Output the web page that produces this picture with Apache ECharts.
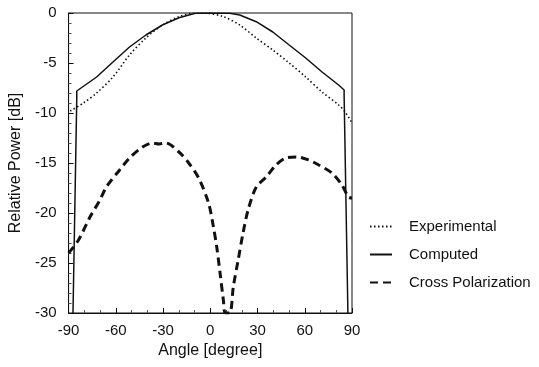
<!DOCTYPE html>
<html>
<head>
<meta charset="utf-8">
<script src="https://cdn.jsdelivr.net/npm/echarts@6/dist/echarts.min.js"></script>
<style>html,body{margin:0;padding:0;background:#fff;}#c{width:539px;height:367px;}</style>
</head>
<body>
<div id="c"></div>
<script>
const xTicks = [-90, -60, -30, 0, 30, 60, 90];
const yTicks = [0, -5, -10, -15, -20, -25, -30];

const expAngle = [-89, -80.6, -72.2, -61.8, -51.3, -40.9, -30.4, -19.9, -11, -2.2, 8.3, 18.7, 29.2, 39.7, 50.1, 60.6, 71, 81.5, 85.7, 90];
const expPower = [-9.8, -9.0, -8.0, -6.4, -4.2, -2.5, -1.2, -0.37, -0.03, -0.03, -0.37, -1.2, -2.5, -3.7, -5.0, -6.4, -7.9, -9.2, -9.9, -11.0];

const compAngle = [-87.2, -84.8, -84.8, -72.2, -61.8, -51.3, -40.9, -30.4, -19.9, -9.5, 0, 12.4, 18.7, 29.2, 39.7, 50.1, 60.6, 71.0, 81.5, 85.0, 85.0, 87.4];
const compPower = [-30, -8.5, -7.8, -6.4, -4.9, -3.4, -2.2, -1.2, -0.47, -0.03, 0, -0.03, -0.2, -0.87, -1.9, -3.2, -4.5, -5.9, -7.2, -7.7, -8.3, -30];

const crossAngle = [-90, -83.7, -76.4, -70.1, -66, -57.6, -51.3, -43, -36.7, -32.5, -28.3, -19.9, -13.7, -7.4, -1.1, 2, 4.1, 6.2, 8.3, 9.5, 12.4, 14.6, 17.7, 20.8, 24, 29.2, 35.5, 41.7, 48, 55.4, 62.6, 68.9, 77.3, 83.6, 87.7, 90];
const crossPower = [-24.0, -22.7, -20.4, -18.7, -17.4, -15.7, -14.5, -13.4, -13.0, -13.1, -13.0, -13.9, -15.0, -16.5, -19.0, -21.4, -23.4, -26.0, -28.7, -30, -30, -27.4, -24.7, -22.0, -19.7, -17.4, -16.4, -15.2, -14.5, -14.4, -14.7, -15.2, -16.0, -17.2, -18.4, -18.5];

const zip = (a, b) => a.map((v, i) => [v, b[i]]);
const font = 'Liberation Sans, Arial, sans-serif';
const ink = '#111';

const chart = echarts.init(document.getElementById('c'), null, {renderer: 'canvas'});
chart.setOption({
  animation: false,
  backgroundColor: '#fff',
  grid: {left: 65, right: 187, top: 13, bottom: 54, show: true, borderColor: ink, borderWidth: 1, containLabel: false},
  xAxis: {
    type: 'value', min: xTicks[0], max: xTicks[xTicks.length - 1], interval: 30,
    name: 'Angle [degree]', nameLocation: 'middle', nameGap: 30,
    nameTextStyle: {fontFamily: font, fontSize: 16, color: ink},
    axisLine: {onZero: false, lineStyle: {color: ink, width: 1}},
    axisTick: {inside: true, length: 5, lineStyle: {color: ink}},
    minorTick: {show: true, splitNumber: 3, length: 3, lineStyle: {color: '#555'}},
    axisLabel: {fontFamily: font, fontSize: 15, color: ink, margin: 10},
    splitLine: {show: false}
  },
  yAxis: {
    type: 'value', min: yTicks[yTicks.length - 1], max: yTicks[0], interval: 5,
    name: 'Relative Power [dB]', nameLocation: 'middle', nameGap: 35, nameRotate: 90,
    nameTextStyle: {fontFamily: font, fontSize: 16, color: ink},
    axisLine: {onZero: false, lineStyle: {color: ink, width: 1}},
    axisTick: {inside: true, length: 5, lineStyle: {color: ink}},
    minorTick: {show: true, splitNumber: 5, length: 3, lineStyle: {color: '#555'}},
    axisLabel: {fontFamily: font, fontSize: 15, color: ink, margin: 12},
    splitLine: {show: false}
  },
  legend: {
    orient: 'vertical', left: 364, top: 214, itemWidth: 22, itemHeight: 10, itemGap: 13,
    itemStyle: {opacity: 0},
    textStyle: {fontFamily: font, fontSize: 15, color: ink, padding: [0, 0, 0, 12]},
    data: ['Experimental', 'Computed', 'Cross Polarization']
  },
  series: [
    {name: 'Experimental', type: 'line', data: zip(expAngle, expPower), smooth: 0.3, symbol: 'none',
      lineStyle: {color: ink, width: 1.6, type: [1.5, 2.5]}, itemStyle: {color: ink}},
    {name: 'Computed', type: 'line', data: zip(compAngle, compPower), smooth: false, symbol: 'none',
      lineStyle: {color: ink, width: 1.5}, itemStyle: {color: ink}},
    {name: 'Cross Polarization', type: 'line', data: zip(crossAngle, crossPower), smooth: 0.3, symbol: 'none',
      lineStyle: {color: ink, width: 3, type: [8, 5]}, itemStyle: {color: ink}}
  ]
});
</script>
</body>
</html>
